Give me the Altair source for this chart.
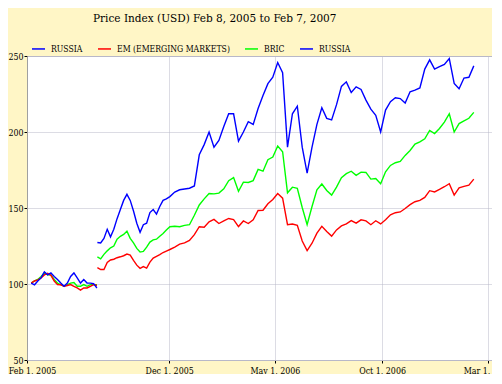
import altair as alt
import pandas as pd

# ---- data ----
seg1_dates = pd.date_range("2005-02-10", periods=21, freq="7D")
seg2_dates = pd.date_range("2005-07-01", periods=85, freq="7D")

russia_1 = [100.6, 99.5, 102, 104, 108, 106, 107.3, 105, 103, 100.6, 98.5,
            100.6, 105, 107.3, 104, 100.6, 103, 100.6, 100.6, 100.2, 97.4]
bric_1 = [100.6, 102, 103, 105, 107.3, 106, 106, 103, 100.6, 99.6, 98.5,
          99.6, 100.6, 101, 98.5, 98.5, 99.6, 98.5, 99.6, 99.6, 99.5]
em_1 = [100.6, 102, 102.7, 104, 106, 107, 105.7, 102, 99.6, 99.5, 98.5,
        99, 99.6, 98.5, 97.4, 96, 97.4, 97.4, 98.5, 99.6, 99]

russia_2 = [127.3, 127, 130, 136, 131, 136, 143, 149, 155, 159,
            155, 148, 140, 134, 139, 140, 147, 149, 146, 151,
            155, 156, 157.5, 160.5, 162, 162.5, 163, 164.5, 185, 191.7,
            200, 190, 194.5, 203.6, 212, 212, 194, 200, 206.8, 205,
            215.4, 224, 231.8, 236, 245.7, 239, 190, 212, 217, 190,
            173, 190, 205, 216, 209, 208, 218, 230, 233, 226,
            229.7, 228, 221, 215, 211, 200, 214.4, 220, 222.5, 222,
            219, 226.5, 227.5, 229, 241.4, 247.5, 241.4, 243, 244.5, 248.3,
            232, 228.4, 235.5, 236, 243.5]
bric_2 = [117.8, 116.5, 119.5, 121.8, 123.8, 125, 129.5, 131.4, 132.6, 134.7,
          130, 127, 123.4, 121, 121.4, 124.2, 127.6, 129, 129.5, 131.4,
          133.2, 135.5, 137.7, 138, 137.7, 138.6, 139, 145.2, 152, 156,
          159.5, 159.3, 159.8, 162.6, 168, 170, 161, 167, 166.8, 168,
          175.4, 174.2, 181.8, 183.5, 190.8, 187, 160, 163.7, 163, 150.3,
          139, 151, 162, 165.8, 161.5, 158.5, 163.7, 170, 172.6, 174.2,
          171.5, 173.6, 173.4, 169, 169.4, 166, 173.8, 178, 179.8, 180.7,
          184.6, 187.8, 192, 193.5, 195.5, 201, 199, 202.3, 206.5, 212,
          200, 205.5, 207.3, 209, 212.9]
em_2 = [110.7, 109.5, 109.5, 114.2, 115.8, 116.3, 117.3, 117.9, 118.6, 119.7,
        119, 115.6, 112.4, 110.3, 111.5, 110.5, 114.4, 117, 118.2, 119.3,
        120.7, 121.7, 122.7, 124.3, 126.2, 127, 128.7, 132.5, 137.7, 137.3,
        140.9, 142.5, 139.8, 141.5, 143.1, 142.4, 137.8, 141.5, 139.8, 142.2,
        148.4, 148.5, 152.8, 155.6, 159.5, 156.5, 139, 139.5, 138.6, 128.3,
        122, 126.8, 133.5, 138, 134.5, 131.5, 135.6, 138.2, 139.6, 141.7,
        140, 142.2, 141.5, 139, 141.6, 139.5, 142.2, 145.5, 146.9, 147.4,
        149.7, 152.2, 154.1, 155, 157, 161.4, 160.6, 162.2, 164, 166,
        158.5, 163.2, 164.2, 165, 169]

series_names = ["RUSSIA", "EM (EMERGING MARKETS)", "BRIC", "RUSSIA "]
series_colors = ["#0000ff", "#ff0000", "#00ff00", "#0000ff"]

y_ticks = [50, 100, 150, 200, 250]
x_tick_labels = ["Feb 1, 2005", "Dec 1, 2005", "May 1, 2006", "Oct 1, 2006", "Mar 1, 2007"]

rows = []
for name, seg, dates, vals in [
    ("BRIC", "a", seg1_dates, bric_1),
    ("EM (EMERGING MARKETS)", "a", seg1_dates, em_1),
    ("RUSSIA", "a", seg1_dates, russia_1),
    ("BRIC", "b", seg2_dates, bric_2),
    ("EM (EMERGING MARKETS)", "b", seg2_dates, em_2),
    ("RUSSIA", "b", seg2_dates, russia_2),
]:
    for d, v in zip(dates, vals):
        rows.append({"date": d, "value": v, "series": name, "seg": name + seg})
df = pd.DataFrame(rows)

FONT = "DejaVu Serif Condensed"
GRID = "#b8b8c8"

# The original axis is compressed before Dec 1, 2005 (Feb 1 -> Dec 1 takes the
# room of 203 days); the axis shows the original calendar dates.
pos_expr = ("time(toDate(datum.date)) < time(datetime(2005, 11, 1)) ? "
            "time(datetime(2005, 11, 1)) - (time(datetime(2005, 11, 1)) - time(toDate(datum.date))) * 203 / 303 : "
            "time(toDate(datum.date))")

x_scale = alt.Scale(domain=[alt.DateTime(year=2005, month=5, date=12),
                            alt.DateTime(year=2007, month=3, date=7)], nice=False)
x_ticks = [alt.DateTime(year=2005, month=5, date=12),
           alt.DateTime(year=2005, month=12, date=1),
           alt.DateTime(year=2006, month=5, date=1),
           alt.DateTime(year=2006, month=10, date=1),
           alt.DateTime(year=2007, month=3, date=1)]
label_expr = "datum.index == 0 ? '%s' : timeFormat(datum.value, '%%b %%-d, %%Y')" % x_tick_labels[0]

chart = alt.Chart(df).transform_calculate(pos=pos_expr).mark_line(strokeWidth=1.4).encode(
    x=alt.X("pos:T", scale=x_scale,
            axis=alt.Axis(values=x_ticks, labelExpr=label_expr, title=None,
                          grid=True, gridColor=GRID, gridDash=[1, 1],
                          tickColor="black", tickSize=3, labelPadding=3,
                          labelFont=FONT, labelFontSize=8.8, labelColor="black",
                          domainColor=GRID, labelOverlap=False,
                          labelFlush=False,
                          labelOffset={"condition": {"test": "datum.index == 0", "value": 5}, "value": 0})),
    y=alt.Y("value:Q", scale=alt.Scale(domain=[50, 250], nice=False, zero=False),
            axis=alt.Axis(values=y_ticks, title=None, grid=True,
                          gridColor=GRID, gridDash=[1, 1],
                          tickColor="black", tickSize=3, labelPadding=1,
                          labelFont=FONT, labelFontSize=8.8, labelColor="black",
                          domainColor="#a0a0a0")),
    color=alt.Color("series:N",
                    scale=alt.Scale(domain=series_names, range=series_colors),
                    legend=alt.Legend(orient="none", legendX=4, legendY=-15,
                                      direction="horizontal", title=None,
                                      symbolType="stroke", symbolSize=169,
                                      symbolStrokeWidth=1.5, labelFont=FONT,
                                      labelFontSize=8.6, labelColor="black",
                                      columnPadding=12, labelOffset=5,
                                      padding=0)),
    detail="seg:N",
).properties(
    width=465, height=304,
    title=alt.TitleParams("Price Index (USD) Feb 8, 2005 to Feb 7, 2007",
                          anchor="start", frame="group", dx=66, font=FONT,
                          fontSize=11.7, fontWeight="normal", color="black",
                          offset=16),
    background="#FFF6C6",
    padding={"left": 19, "top": 48, "right": 0, "bottom": 14},
    autosize=alt.AutoSizeParams(type="none"),
).configure_view(fill="white", stroke=GRID)

chart.save("out.html", embed_options={"renderer": "svg", "actions": False})
